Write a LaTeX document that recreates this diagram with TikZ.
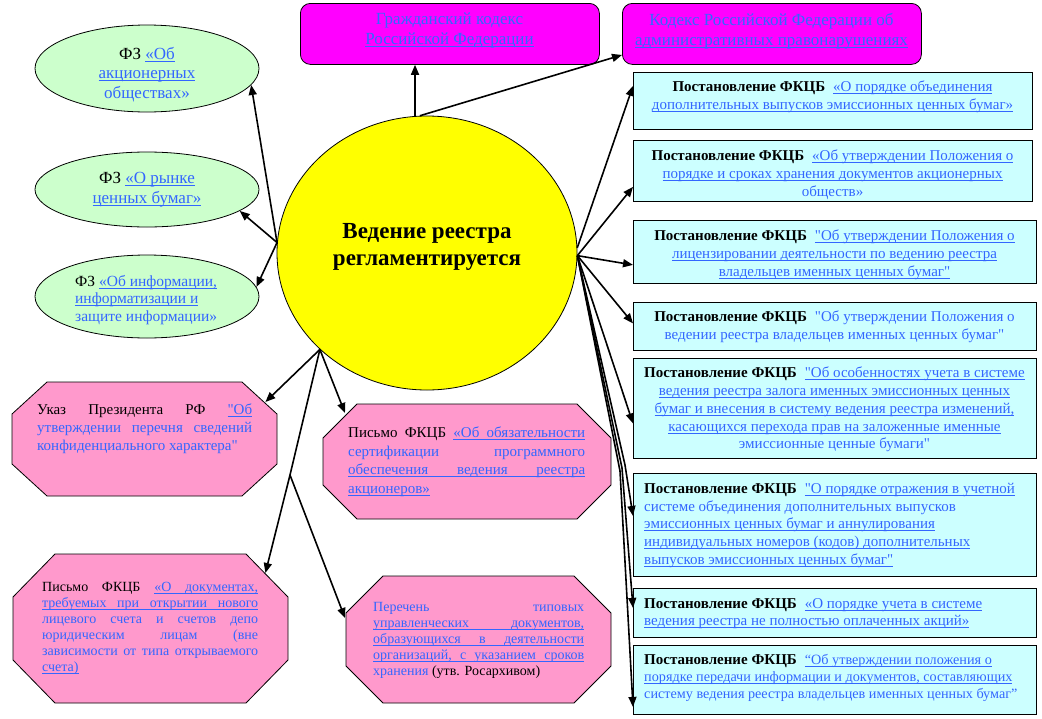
\documentclass[tikz,border=0pt]{standalone}
\usepackage{fontspec}
\setmainfont{Liberation Serif}[Ligatures=TeXOff]
\usetikzlibrary{arrows.meta,calc,shapes.geometric}
\definecolor{blu}{RGB}{51,102,255}
\definecolor{mag}{RGB}{255,0,255}
\definecolor{cya}{RGB}{204,255,255}
\definecolor{grn}{RGB}{204,255,204}
\definecolor{pnk}{RGB}{255,153,204}
\definecolor{yel}{RGB}{255,255,0}
\makeatletter
\def\U#1{\U@loop#1 \U@end\relax}
\def\U@endmark{\U@end}
\def\U@loop#1 #2\relax{\U@word{#1}\def\U@arg{#2}\ifx\U@arg\U@endmark\expandafter\@gobble\else\expandafter\@firstofone\fi{\U@sp\U@loop#2\relax}}
\def\U@word#1{\setbox0\hbox{#1}\rlap{\rule[-2.4pt]{\wd0}{0.9pt}}\box0}
\def\U@sp{\leaders\vrule height-1.5pt depth2.4pt\hskip\fontdimen2\font plus\fontdimen3\font minus\fontdimen4\font}
\makeatother
\newcommand\JL[2]{\makebox[#1][s]{#2}}
\newcommand\PF{{\color{black}\bfseries\fontsize{15}{17.7}\selectfont Постановление ФКЦБ}\hspace{8pt}}
\newcommand\blk[1]{{\color{black}#1}}
\newcommand\octa[6]{\draw[oct] ({#1+#5},#2) -- ({#3-#5},#2) -- (#3,{#2+#6}) -- (#3,{#4-#6}) -- ({#3-#5},#4) -- ({#1+#5},#4) -- (#1,{#4-#6}) -- (#1,{#2+#6}) -- cycle;}
\tikzset{
  arr/.style={line width=1.6pt,-{Triangle[length=10pt,width=8pt]}},
  lnk/.style={line width=1.6pt},
  shp/.style={draw=black,line width=0.8pt,inner sep=0pt,anchor=north west},
  rbox/.style={shp,fill=cya,rectangle},
  mbox/.style={shp,fill=mag,rounded corners=10pt},
  gell/.style={draw=black,line width=0.8pt,fill=grn,ellipse,inner sep=0pt},
  oct/.style={draw=black,line width=0.8pt,fill=pnk},
  ph/.style={inner sep=0pt,anchor=north west,draw=none},
  txt/.style={inner sep=0pt,text=blu},
  rt/.style={txt,font=\fontsize{15}{17.7}\selectfont},
}
\begin{document}
\begin{tikzpicture}[x=1pt,y=-1pt]
\fill[white] (0,0) rectangle (1042,718);
\useasboundingbox (0,0) rectangle (1042,718);

% top magenta boxes
\node[mbox,minimum width=299pt,minimum height=61pt] (m1) at (300,3) {};
\node[mbox,minimum width=299pt,minimum height=61pt] (m2) at (622,3) {};
\node[txt,anchor=north,align=center,font=\fontsize{17}{20}\selectfont] (m1t) at (449.5,13) {Гражданский кодекс\\ \U{Российской Федерации}};
\node[txt,anchor=north,align=center,font=\fontsize{17}{20}\selectfont] (m2t) at (771.5,13) {Кодекс Российской Федерации об\\ \U{административных правонарушениях}};

% central circle
\node[draw=black,line width=0.8pt,fill=yel,ellipse,inner sep=0pt,minimum width=300pt,minimum height=274pt] (c) at (427,253) {};
\node[txt,text=black,anchor=north,align=center,font=\bfseries\fontsize{23}{27}\selectfont] (ct) at (427,223) {Ведение реестра\\регламентируется};

% left ellipses
\node[gell,minimum width=224pt,minimum height=87pt] (e1) at (147,68.5) {};
\node[gell,minimum width=224pt,minimum height=75pt] (e2) at (147,189.5) {};
\node[gell,minimum width=224pt,minimum height=83pt] (e3) at (147,296.5) {};
\node[txt,anchor=north,align=center,font=\fontsize{17}{19.5}\selectfont] (e1t) at (147,47) {\blk{ФЗ} \U{«Об}\\ \U{акционерных}\\ обществах»};
\node[txt,anchor=north,align=center,font=\fontsize{17}{20}\selectfont] (e2t) at (147,172) {\blk{ФЗ} \U{«О рынке}\\ \U{ценных бумаг»}};
\node[txt,anchor=north west,align=left,font=\fontsize{15.5}{17.5}\selectfont] (e3t) at (75,275) {\blk{ФЗ} \U{«Об информации,}\\ \U{информатизации и}\\ защите информации»};

% octagons
\octa{12}{382}{277}{496}{35}{32}
\node[ph,minimum width=265pt,minimum height=114pt] (o1) at (12,382) {};
\octa{323}{404}{611}{519}{34}{34}
\node[ph,minimum width=288pt,minimum height=115pt] (o2) at (323,404) {};
\octa{13}{554}{288}{703}{42}{43}
\node[ph,minimum width=275pt,minimum height=149pt] (o3) at (13,554) {};
\octa{346}{576}{611}{703}{37}{37}
\node[ph,minimum width=265pt,minimum height=127pt] (o4) at (346,576) {};

\node[txt,anchor=north west,align=left,font=\fontsize{15}{18}\selectfont] (o1t) at (37,404)
 {\JL{215pt}{\blk{Указ Президента РФ} \U{"Об}}\\ \JL{215pt}{утверждении перечня сведений}\\ конфиденциального характера"};
\node[txt,anchor=north west,align=left,font=\fontsize{15}{18.5}\selectfont] (o2t) at (348,427)
 {\JL{237pt}{\blk{Письмо ФКЦБ} \U{«Об обязательности}}\\ \JL{237pt}{сертификации программного}\\ \JL{237pt}{\U{обеспечения ведения реестра}}\\ \U{акционеров»}};
\node[txt,anchor=north west,align=left,font=\fontsize{14}{16}\selectfont] (o3t) at (42,582)
 {\JL{216pt}{\blk{Письмо ФКЦБ} \U{«О документах,}}\\ \JL{216pt}{\U{требуемых при открытии нового}}\\ \JL{216pt}{лицевого счета и счетов депо}\\ \JL{216pt}{юридическим лицам (вне}\\ \JL{216pt}{зависимости от типа открываемого}\\ \U{счета)}};
\node[txt,anchor=north west,align=left,font=\fontsize{14}{16}\selectfont] (o4t) at (373,602)
 {\JL{211pt}{Перечень типовых}\\ \JL{211pt}{\U{управленческих документов,}}\\ \JL{211pt}{\U{образующихся в деятельности}}\\ \JL{211pt}{\U{организаций, с указанием сроков}}\\ хранения \blk{(утв. Росархивом)}};

% right boxes
\node[rbox,minimum width=399pt,minimum height=57pt] (r1) at (633,72) {};
\node[rbox,minimum width=399pt,minimum height=61pt] (r2) at (633,140) {};
\node[rbox,minimum width=403pt,minimum height=63pt] (r3) at (633,220) {};
\node[rbox,minimum width=403pt,minimum height=48pt] (r4) at (633,302) {};
\node[rbox,minimum width=403pt,minimum height=100pt] (r5) at (633,358) {};
\node[rbox,minimum width=403pt,minimum height=103pt] (r6) at (633,473) {};
\node[rbox,minimum width=403pt,minimum height=49pt] (r7) at (633,588) {};
\node[rbox,minimum width=403pt,minimum height=69pt] (r8) at (633,645) {};

\node[rt,anchor=north,align=center] (r1t) at (832.5,81) {\PF\U{«О порядке объединения}\\ \U{дополнительных выпусков эмиссионных ценных бумаг»}};
\node[rt,anchor=north,align=center] (r2t) at (832.5,150) {\PF\U{«Об утверждении Положения о}\\ \U{порядке и сроках хранения документов акционерных}\\ обществ»};
\node[rt,anchor=north,align=center] (r3t) at (834.5,230) {\PF\U{"Об утверждении Положения о}\\ \U{лицензировании деятельности по ведению реестра}\\ \U{владельцев именных ценных бумаг"}};
\node[rt,anchor=north,align=center] (r4t) at (834.5,311) {\PF"Об утверждении Положения о\\ ведении реестра владельцев именных ценных бумаг"};
\node[rt,anchor=north,align=center] (r5t) at (834.5,367) {\PF\U{"Об особенностях учета в системе}\\ \U{ведения реестра залога именных эмиссионных ценных}\\ \U{бумаг и внесения в систему ведения реестра изменений,}\\ \U{касающихся перехода прав на заложенные именные}\\ эмиссионные ценные бумаги"};
\node[rt,anchor=north west,align=left] (r6t) at (644,483) {\PF\U{"О порядке отражения в учетной}\\ системе объединения дополнительных выпусков\\ \U{эмиссионных ценных бумаг и аннулирования}\\ \U{индивидуальных номеров (кодов) дополнительных}\\ \U{выпусков эмиссионных ценных бумаг"}};
\node[rt,anchor=north west,align=left] (r7t) at (644,598) {\PF\U{«О порядке учета в системе}\\ \U{ведения реестра не полностью оплаченных акций»}};
\node[rt,anchor=north west,align=left,font=\fontsize{14.2}{17}\selectfont] (r8t) at (644,654) {\PF\U{“Об утверждении положения о}\\ \U{порядке передачи информации и документов, составляющих}\\ систему ведения реестра владельцев именных ценных бумаг”};

% connectors
\draw[arr] (c.95) -- (c.95 |- m1.south);
\draw[arr] (c.93) -- (m2.188);
\draw[arr] (c.176) -- (e1.-9);
\draw[arr] (c.176) -- (e2.-13);
\draw[arr] (c.176) -- (e3.5);
\draw[arr] (c.222) -- ($(o1.north east)+(-12,20)$);
\draw[arr] (c.222) -- ($(o2.north west)+(22,9)$);
\coordinate (br) at (290,475);
\draw[lnk] (c.222) -- (br);
\draw[arr] (br) -- ($(o3.north east)+(-23,19)$);
\draw[arr] (br) -- ($(o4.north west)+(-1,42)$);

\draw[arr] (c.2) -- ([yshift=15pt]r1.west);
\draw[arr] (c.-1) -- ([yshift=-16pt]r2.west);
\draw[arr] (c.-1) -- ([yshift=-13pt]r3.west);
\draw[arr] (c.-1) -- ([yshift=3pt]r4.west);
\draw[arr] (c.-1) -- ([yshift=-15pt]r5.west);
\coordinate (b6) at (625,465);
\coordinate (b7) at (622,468);
\coordinate (b8) at (620,471);
\draw[arr] (c.-1) -- (b6) -- ([yshift=9pt]r6.west);
\draw[arr] (c.-1) -- (b7) -- ([yshift=5pt]r7.west);
\draw[arr] (c.-1) -- (b8) -- ([yshift=-27pt]r8.west);
\end{tikzpicture}
\end{document}
